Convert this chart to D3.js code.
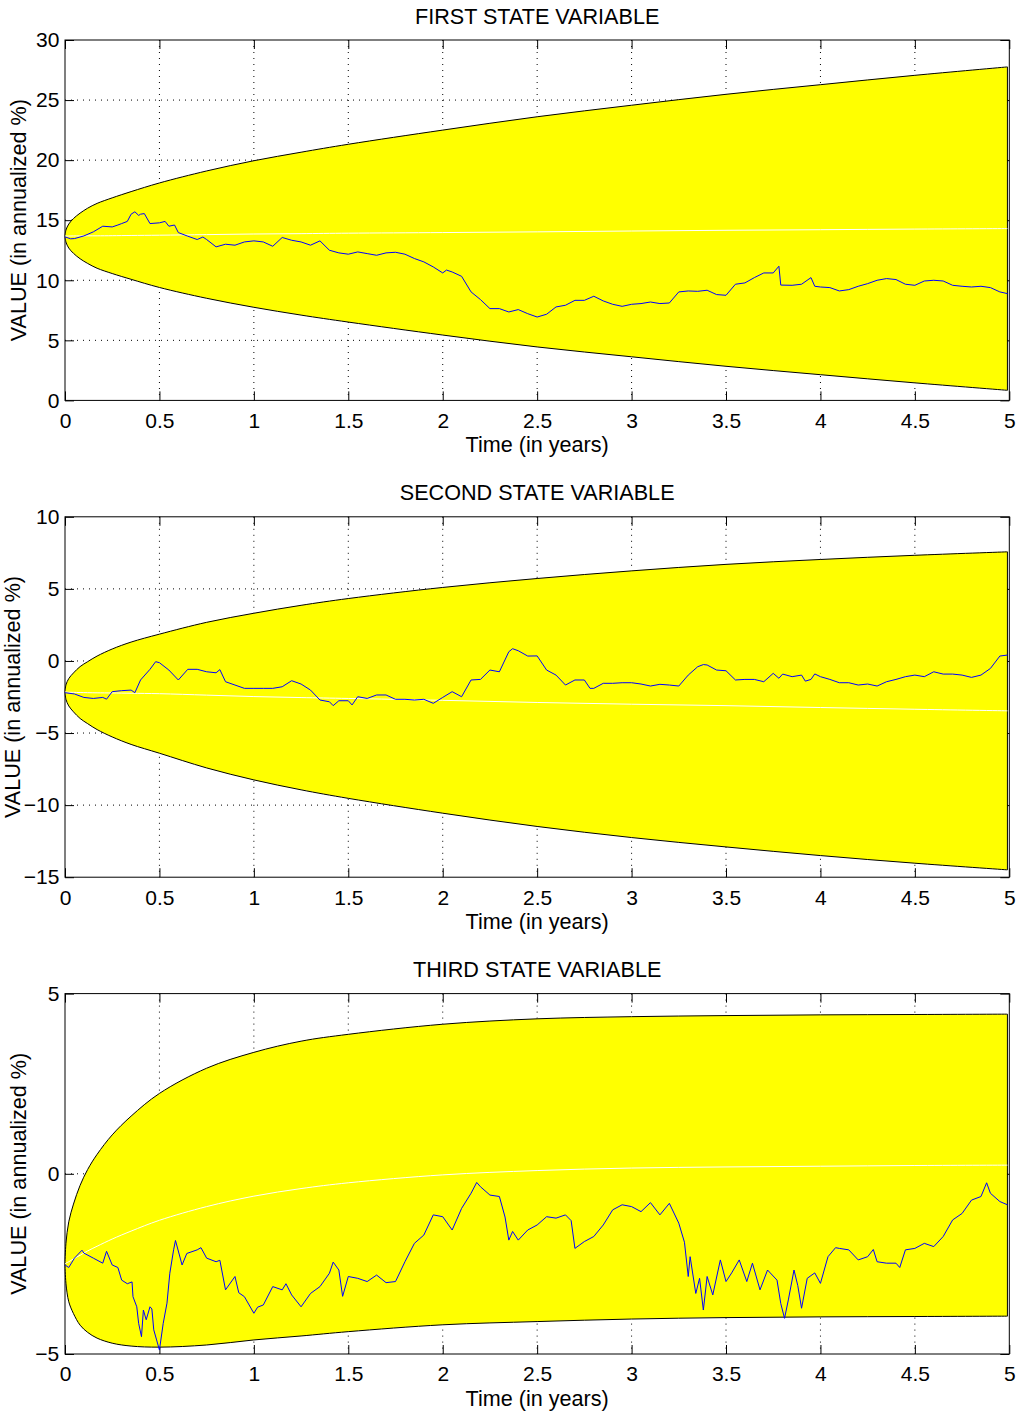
<!DOCTYPE html>
<html>
<head>
<meta charset="utf-8">
<script src="https://cdn.jsdelivr.net/npm/d3@7/dist/d3.min.js"></script>
<style>
  body { margin: 0; background: #fff; }
  text { font-family: "Liberation Sans", Arial, Helvetica, sans-serif; fill: #000; }
</style>
</head>
<body>
<div id="wrapper"></div>
<script>
// ---- data ----
const titles = [`FIRST STATE VARIABLE`, `SECOND STATE VARIABLE`, `THIRD STATE VARIABLE`];
const xTicks = [0, 0.5, 1, 1.5, 2, 2.5, 3, 3.5, 4, 4.5, 5];
const yTicks1 = [0, 5, 10, 15, 20, 25, 30];
const yTicks2 = [-15, -10, -5, 0, 5, 10];
const yTicks3 = [-5, 0, 5];

// times at which the confidence band and the expected value were read
const bandTimes = [0, 0.005, 0.02, 0.045, 0.08, 0.12, 0.17, 0.25, 0.35, 0.5, 0.75, 1, 1.25, 1.5, 2, 2.5, 3, 3.5, 4, 4.5, 4.99];

const upper1 = [13.68, 14.18, 14.68, 15.14, 15.59, 16.0, 16.4, 16.86, 17.38, 18.1, 19.1, 19.95, 20.66, 21.32, 22.5, 23.61, 24.57, 25.48, 26.28, 27.06, 27.76];
const lower1 = [13.68, 13.18, 12.68, 12.24, 11.79, 11.4, 11.0, 10.56, 10.08, 9.4, 8.5, 7.75, 7.1, 6.52, 5.44, 4.45, 3.63, 2.84, 2.14, 1.46, 0.84];
const mean1 = [13.68, 13.68, 13.68, 13.69, 13.69, 13.7, 13.7, 13.71, 13.73, 13.75, 13.8, 13.85, 13.88, 13.92, 13.97, 14.03, 14.1, 14.16, 14.21, 14.26, 14.3];

const upper2 = [-2.15, -1.66, -1.22, -0.83, -0.39, -0.05, 0.34, 0.83, 1.31, 1.86, 2.68, 3.31, 3.86, 4.33, 5.1, 5.72, 6.25, 6.7, 7.04, 7.33, 7.57];
const lower2 = [-2.15, -2.66, -3.12, -3.53, -3.99, -4.35, -4.76, -5.27, -5.79, -6.4, -7.42, -8.25, -8.94, -9.53, -10.56, -11.48, -12.25, -12.9, -13.5, -14.03, -14.49];
const mean2 = [-2.15, -2.16, -2.17, -2.18, -2.19, -2.2, -2.21, -2.22, -2.24, -2.27, -2.37, -2.47, -2.54, -2.6, -2.73, -2.88, -3.0, -3.1, -3.23, -3.35, -3.46];

const upper3 = [-2.5, -1.93, -1.33, -0.84, -0.32, 0.12, 0.54, 1.08, 1.6, 2.23, 2.93, 3.37, 3.68, 3.87, 4.15, 4.3, 4.36, 4.39, 4.41, 4.42, 4.43];
const lower3 = [-2.5, -3.04, -3.55, -3.88, -4.2, -4.4, -4.56, -4.7, -4.78, -4.81, -4.75, -4.61, -4.5, -4.38, -4.19, -4.1, -4.03, -3.99, -3.97, -3.96, -3.95];
const mean3 = [-2.5, -2.48, -2.44, -2.36, -2.26, -2.14, -2.01, -1.81, -1.59, -1.29, -0.91, -0.62, -0.41, -0.25, -0.03, 0.09, 0.16, 0.19, 0.21, 0.23, 0.24];

// simulated paths, [time, value]
const path1 = [[0,13.61],[0.03,13.45],[0.05,13.47],[0.1,13.69],[0.15,14.03],[0.2,14.5],[0.25,14.44],[0.28,14.6],[0.3,14.72],[0.33,14.9],[0.35,15.5],[0.37,15.7],[0.39,15.4],[0.4,15.5],[0.42,15.55],[0.45,14.72],[0.5,14.78],[0.53,14.9],[0.55,14.5],[0.58,14.6],[0.6,13.97],[0.65,13.67],[0.7,13.39],[0.73,13.6],[0.75,13.39],[0.8,12.78],[0.85,13.0],[0.9,12.92],[0.95,13.19],[1.0,13.28],[1.05,13.19],[1.1,12.83],[1.15,13.56],[1.2,13.33],[1.25,13.19],[1.3,12.92],[1.35,13.28],[1.4,12.5],[1.45,12.28],[1.5,12.17],[1.55,12.36],[1.6,12.22],[1.65,12.08],[1.7,12.28],[1.75,12.33],[1.8,12.17],[1.85,11.81],[1.9,11.53],[1.95,11.11],[2.0,10.61],[2.02,10.85],[2.05,10.69],[2.1,10.33],[2.15,9.03],[2.2,8.39],[2.25,7.64],[2.3,7.64],[2.35,7.36],[2.4,7.56],[2.45,7.22],[2.5,6.94],[2.55,7.17],[2.6,7.78],[2.65,7.92],[2.7,8.33],[2.75,8.33],[2.8,8.67],[2.85,8.28],[2.9,8.0],[2.95,7.83],[3.0,8.0],[3.05,8.06],[3.1,8.19],[3.15,8.06],[3.2,8.11],[3.25,9.03],[3.3,9.11],[3.35,9.08],[3.4,9.17],[3.45,8.81],[3.5,8.75],[3.55,9.67],[3.6,9.78],[3.65,10.22],[3.7,10.61],[3.75,10.61],[3.78,11.17],[3.79,9.6],[3.85,9.58],[3.9,9.67],[3.95,10.22],[3.97,9.5],[4.0,9.44],[4.05,9.39],[4.1,9.11],[4.15,9.22],[4.2,9.5],[4.25,9.72],[4.3,10.0],[4.35,10.14],[4.4,10.06],[4.45,9.67],[4.5,9.58],[4.55,9.94],[4.6,10.0],[4.65,9.94],[4.7,9.58],[4.75,9.5],[4.8,9.44],[4.85,9.5],[4.9,9.39],[4.95,9.03],[4.99,8.89]];

const path2 = [[0,-2.2],[0.05,-2.29],[0.1,-2.53],[0.15,-2.6],[0.2,-2.53],[0.22,-2.65],[0.25,-2.13],[0.3,-2.06],[0.35,-2.02],[0.37,-2.2],[0.4,-1.32],[0.45,-0.58],[0.48,-0.05],[0.5,-0.12],[0.55,-0.63],[0.6,-1.32],[0.65,-0.58],[0.7,-0.58],[0.75,-0.75],[0.8,-0.82],[0.82,-0.6],[0.85,-1.44],[0.9,-1.67],[0.95,-1.9],[1.0,-1.9],[1.05,-1.9],[1.1,-1.9],[1.15,-1.79],[1.2,-1.37],[1.25,-1.6],[1.3,-2.02],[1.35,-2.71],[1.4,-2.83],[1.42,-3.1],[1.45,-2.76],[1.5,-2.76],[1.52,-3.05],[1.55,-2.48],[1.6,-2.6],[1.65,-2.36],[1.7,-2.36],[1.75,-2.66],[1.8,-2.66],[1.85,-2.71],[1.9,-2.66],[1.95,-2.94],[2.0,-2.53],[2.05,-2.13],[2.1,-2.48],[2.15,-1.32],[2.2,-1.28],[2.25,-0.63],[2.3,-0.75],[2.35,0.64],[2.37,0.85],[2.4,0.71],[2.45,0.34],[2.5,0.35],[2.55,-0.63],[2.6,-0.98],[2.65,-1.67],[2.7,-1.32],[2.75,-1.32],[2.78,-1.9],[2.8,-1.9],[2.85,-1.55],[2.9,-1.55],[2.95,-1.51],[3.0,-1.51],[3.05,-1.6],[3.1,-1.74],[3.15,-1.62],[3.2,-1.67],[3.25,-1.74],[3.3,-0.98],[3.35,-0.4],[3.38,-0.25],[3.4,-0.28],[3.45,-0.63],[3.5,-0.68],[3.55,-1.32],[3.6,-1.28],[3.65,-1.28],[3.7,-1.44],[3.75,-0.86],[3.78,-1.2],[3.8,-0.91],[3.85,-1.09],[3.9,-0.98],[3.92,-1.4],[3.95,-1.28],[3.97,-0.9],[4.0,-1.09],[4.05,-1.28],[4.1,-1.51],[4.15,-1.51],[4.2,-1.67],[4.25,-1.6],[4.3,-1.74],[4.35,-1.44],[4.4,-1.28],[4.45,-1.09],[4.5,-0.98],[4.55,-1.09],[4.6,-0.75],[4.65,-0.91],[4.7,-0.91],[4.75,-0.98],[4.8,-1.14],[4.85,-0.98],[4.9,-0.52],[4.95,0.34],[4.99,0.41]];

const path3 = [[0,-2.53],[0.02,-2.6],[0.05,-2.34],[0.09,-2.12],[0.1,-2.2],[0.15,-2.34],[0.2,-2.48],[0.22,-2.15],[0.25,-2.53],[0.28,-2.6],[0.3,-2.95],[0.33,-3.05],[0.355,-3.0],[0.36,-3.41],[0.38,-3.69],[0.39,-4.15],[0.405,-4.52],[0.415,-3.78],[0.43,-4.05],[0.45,-3.69],[0.46,-3.75],[0.47,-4.33],[0.485,-4.61],[0.5,-4.89],[0.52,-4.15],[0.54,-3.59],[0.555,-2.76],[0.575,-2.11],[0.585,-1.85],[0.62,-2.53],[0.645,-2.21],[0.7,-2.11],[0.72,-2.05],[0.75,-2.34],[0.8,-2.44],[0.82,-2.4],[0.85,-3.22],[0.9,-2.85],[0.92,-3.3],[0.95,-3.41],[1.0,-3.87],[1.02,-3.7],[1.05,-3.64],[1.1,-3.13],[1.15,-3.22],[1.17,-3.05],[1.2,-3.36],[1.25,-3.69],[1.3,-3.32],[1.35,-3.13],[1.4,-2.76],[1.42,-2.45],[1.45,-2.67],[1.47,-3.4],[1.5,-2.85],[1.55,-2.9],[1.6,-2.99],[1.65,-2.81],[1.7,-3.02],[1.75,-2.99],[1.8,-2.44],[1.85,-1.93],[1.9,-1.7],[1.95,-1.14],[2.0,-1.19],[2.05,-1.56],[2.1,-0.96],[2.15,-0.54],[2.18,-0.24],[2.2,-0.36],[2.25,-0.59],[2.3,-0.63],[2.33,-1.2],[2.35,-1.84],[2.37,-1.6],[2.4,-1.84],[2.45,-1.56],[2.5,-1.42],[2.55,-1.19],[2.6,-1.23],[2.65,-1.14],[2.68,-1.3],[2.7,-2.07],[2.75,-1.88],[2.8,-1.74],[2.85,-1.42],[2.9,-1.0],[2.95,-0.86],[3.0,-0.91],[3.05,-1.05],[3.1,-0.8],[3.15,-1.14],[3.2,-0.82],[3.25,-1.37],[3.28,-1.9],[3.3,-2.85],[3.31,-2.3],[3.34,-3.32],[3.36,-2.9],[3.38,-3.78],[3.4,-2.85],[3.43,-3.36],[3.47,-2.39],[3.5,-2.99],[3.53,-2.75],[3.57,-2.39],[3.61,-2.99],[3.64,-2.48],[3.68,-3.22],[3.72,-2.67],[3.77,-2.95],[3.79,-3.6],[3.81,-4.01],[3.83,-3.5],[3.86,-2.67],[3.88,-3.1],[3.9,-3.73],[3.93,-2.9],[3.97,-2.75],[4.0,-3.04],[4.04,-2.3],[4.08,-2.05],[4.1,-2.07],[4.15,-2.11],[4.2,-2.39],[4.25,-2.3],[4.28,-2.1],[4.3,-2.44],[4.35,-2.48],[4.4,-2.48],[4.42,-2.6],[4.45,-2.11],[4.5,-2.07],[4.55,-1.93],[4.6,-2.02],[4.65,-1.74],[4.7,-1.28],[4.75,-1.1],[4.8,-0.73],[4.85,-0.63],[4.88,-0.25],[4.9,-0.54],[4.95,-0.77],[4.99,-0.86]];

// ---- layout ----
const panels = [
  {title: titles[0], domain: [0, 30], ticks: yTicks1, upper: upper1, lower: lower1, mean: mean1, path: path1, labelX: 26},
  {title: titles[1], domain: [-15, 10], ticks: yTicks2, upper: upper2, lower: lower2, mean: mean2, path: path2, labelX: 20},
  {title: titles[2], domain: [-5, 5], ticks: yTicks3, upper: upper3, lower: lower3, mean: mean3, path: path3, labelX: 26},
];

const width = 1017;
const height = 1414;
const left = 65;
const right = 1009.3;
const plotH = 360.4;
const tops = [40, 516.8, 993.6];
const tickLen = 9;
const tickFont = 21;
const labelFont = 21.6;

const svg = d3.select(`#wrapper`)
  .append(`svg`)
  .attr(`width`, width)
  .attr(`height`, height);

const xScale = d3.scaleLinear().domain([0, 5]).range([left, right]);

const fmt = d => d < 0 ? `\u2212` + Math.abs(d) : String(d);
const smooth = d3.curveCatmullRom.alpha(0.5);

panels.forEach((p, i) => {
  const top = tops[i];
  const bottom = top + plotH;
  const yScale = d3.scaleLinear().domain(p.domain).range([bottom, top]);
  const g = svg.append(`g`);

  // grid (MATLAB draws it under the data)
  g.append(`g`).selectAll(`line`)
    .data(xTicks.slice(1, -1))
    .join(`line`)
    .attr(`x1`, d => xScale(d)).attr(`x2`, d => xScale(d))
    .attr(`y1`, top).attr(`y2`, bottom)
    .attr(`stroke`, `#000`).attr(`stroke-width`, 1)
    .attr(`stroke-dasharray`, `1,5`);

  g.append(`g`).selectAll(`line`)
    .data(p.ticks.slice(1, -1))
    .join(`line`)
    .attr(`x1`, left).attr(`x2`, right)
    .attr(`y1`, d => yScale(d)).attr(`y2`, d => yScale(d))
    .attr(`stroke`, `#000`).attr(`stroke-width`, 1)
    .attr(`stroke-dasharray`, `1,5`);

  // axes, ticks pointing inwards
  g.append(`g`)
    .attr(`transform`, `translate(0, ${bottom})`)
    .call(d3.axisBottom(xScale).tickValues(xTicks).tickFormat(fmt).tickSize(-tickLen).tickPadding(12.5));
  g.append(`g`)
    .attr(`transform`, `translate(0, ${top})`)
    .call(d3.axisTop(xScale).tickValues(xTicks).tickFormat(``).tickSize(-tickLen));
  g.append(`g`)
    .attr(`transform`, `translate(${left}, 0)`)
    .call(d3.axisLeft(yScale).tickValues(p.ticks).tickFormat(fmt).tickSize(-tickLen).tickPadding(5.7));
  g.append(`g`)
    .attr(`transform`, `translate(${right}, 0)`)
    .call(d3.axisRight(yScale).tickValues(p.ticks).tickFormat(``).tickSize(-tickLen));

  g.selectAll(`.domain`).remove();
  g.selectAll(`.tick line`).attr(`stroke`, `#000`);
  g.selectAll(`.tick text`)
    .attr(`font-size`, tickFont)
    .attr(`font-family`, `"Liberation Sans", Arial, sans-serif`)
    .attr(`fill`, `#000`);

  g.append(`rect`)
    .attr(`x`, left).attr(`y`, top)
    .attr(`width`, right - left).attr(`height`, plotH)
    .attr(`fill`, `none`).attr(`stroke`, `#000`).attr(`stroke-width`, 1);

  // confidence band
  const band = bandTimes.map((t, k) => ({t: t, up: p.upper[k], lo: p.lower[k], mid: p.mean[k]}));

  const area = d3.area()
    .x(d => xScale(d.t))
    .y0(d => yScale(d.lo))
    .y1(d => yScale(d.up))
    .curve(smooth);

  g.append(`path`)
    .datum(band)
    .attr(`d`, area)
    .attr(`fill`, `#ffff00`)
    .attr(`stroke`, `#000`)
    .attr(`stroke-width`, 1);

  g.append(`path`)
    .datum(band)
    .attr(`d`, d3.line().x(d => xScale(d.t)).y(d => yScale(d.mid)).curve(smooth))
    .attr(`fill`, `none`)
    .attr(`stroke`, `#fff`)
    .attr(`stroke-width`, 1);

  g.append(`path`)
    .datum(p.path)
    .attr(`d`, d3.line().x(d => xScale(d[0])).y(d => yScale(d[1])))
    .attr(`fill`, `none`)
    .attr(`stroke`, `#0000ff`)
    .attr(`stroke-width`, 1);

  // texts
  g.append(`text`)
    .attr(`x`, (left + right) / 2).attr(`y`, top - 16.5)
    .attr(`text-anchor`, `middle`)
    .attr(`font-size`, labelFont)
    .text(p.title);

  g.append(`text`)
    .attr(`x`, (left + right) / 2).attr(`y`, bottom + 51.5)
    .attr(`text-anchor`, `middle`)
    .attr(`font-size`, labelFont)
    .text(`Time (in years)`);

  g.append(`text`)
    .attr(`transform`, `translate(${p.labelX}, ${(top + bottom) / 2}) rotate(-90)`)
    .attr(`text-anchor`, `middle`)
    .attr(`font-size`, labelFont)
    .text(`VALUE (in annualized %)`);
});
</script>
</body>
</html>
